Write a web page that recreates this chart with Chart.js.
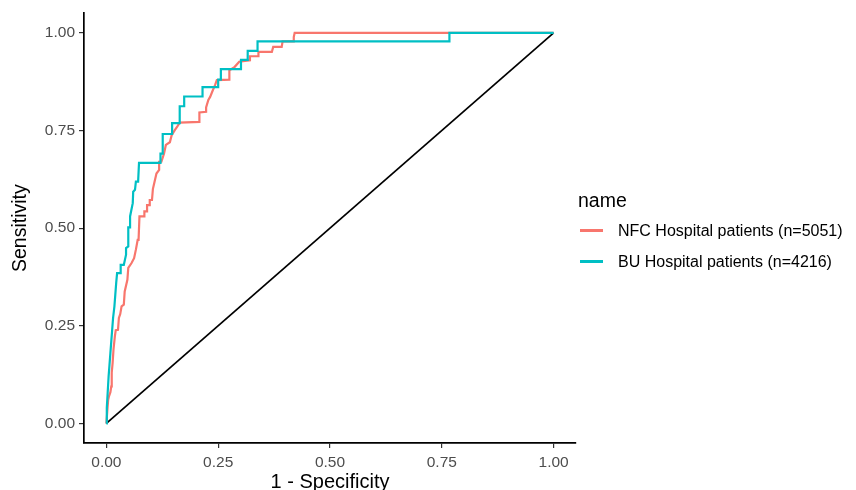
<!DOCTYPE html>
<html>
<head>
<meta charset="utf-8">
<script src="https://cdn.jsdelivr.net/npm/chart.js@4"></script>
<style>
  html, body { margin: 0; padding: 0; background: #fff; }
  #wrap { width: 856px; height: 490px; position: relative; overflow: hidden; }
  #legend { position: absolute; left: 578px; top: 187px; font-family: 'Liberation Sans', Arial, sans-serif; color: #000; }
  #legend .title { font-size: 19.5px; line-height: 26px; height: 28px; }
  #legend .item { position: relative; height: 31px; line-height: 31px; font-size: 16px; white-space: nowrap; padding-left: 40px; }
  #legend .key { position: absolute; left: 2px; top: 14px; width: 23px; height: 2.5px; }
</style>
</head>
<body>
<div id="wrap"><canvas id="c" width="856" height="490"></canvas><div id="legend"></div></div>
<script>
// ROC curve of NFC Hospital patients (n=5051)
const nfcFpr = [0,0.002,0.004,0.006,0.009,0.011,0.012,0.014,0.016,0.019,0.021,0.026,0.028,0.031,0.034,0.039,0.041,0.047,0.049,0.056,0.062,0.066,0.070,0.072,0.074,0.085,0.085,0.091,0.091,0.097,0.097,0.102,0.104,0.108,0.112,0.118,0.118,0.123,0.129,0.133,0.142,0.146,0.153,0.158,0.164,0.208,0.208,0.223,0.223,0.228,0.232,0.238,0.243,0.247,0.275,0.275,0.287,0.297,0.321,0.321,0.340,0.340,0.370,0.373,0.392,0.394,0.418,0.419,0.421,1];
const nfcTpr = [0,0.030,0.060,0.070,0.080,0.095,0.130,0.155,0.190,0.223,0.239,0.240,0.270,0.280,0.300,0.304,0.338,0.368,0.398,0.410,0.423,0.445,0.470,0.470,0.530,0.530,0.543,0.543,0.559,0.559,0.572,0.572,0.600,0.620,0.640,0.649,0.670,0.670,0.691,0.713,0.720,0.738,0.751,0.759,0.770,0.772,0.796,0.798,0.809,0.828,0.836,0.853,0.866,0.879,0.880,0.904,0.913,0.926,0.930,0.940,0.940,0.951,0.951,0.964,0.964,0.978,0.978,0.989,1,1];

// ROC curve of BU Hospital patients (n=4216)
const buFpr = [0,0.001,0.003,0.005,0.007,0.009,0.011,0.013,0.015,0.018,0.020,0.022,0.024,0.032,0.032,0.039,0.044,0.044,0.049,0.049,0.053,0.053,0.056,0.059,0.060,0.064,0.066,0.071,0.073,0.121,0.121,0.126,0.126,0.147,0.147,0.164,0.164,0.174,0.174,0.215,0.215,0.250,0.250,0.256,0.256,0.301,0.301,0.316,0.316,0.338,0.338,0.767,0.767,1];
const buTpr = [0,0.040,0.080,0.120,0.150,0.180,0.210,0.240,0.270,0.300,0.330,0.360,0.385,0.385,0.406,0.406,0.432,0.449,0.453,0.502,0.502,0.530,0.547,0.564,0.593,0.598,0.619,0.619,0.667,0.667,0.691,0.691,0.741,0.741,0.769,0.769,0.812,0.812,0.837,0.837,0.861,0.861,0.880,0.880,0.907,0.907,0.931,0.931,0.954,0.954,0.978,0.978,1,1];

// Reference (chance) line
const refX = [0, 1];
const refY = [0, 1];

const seriesNames = ['NFC Hospital patients (n=5051)', 'BU Hospital patients (n=4216)'];
const seriesColors = ['#F8766D', '#00BFC4'];
const tickValues = [0, 0.25, 0.5, 0.75, 1];
const legendTitle = 'name';
const xTitle = '1 - Specificity';
const yTitle = 'Sensitivity';

const pts = (xs, ys) => xs.map((x, i) => ({x: x, y: ys[i]}));
const FONT = "'Liberation Sans', Arial, sans-serif";

// HTML legend (real text)
const legendEl = document.getElementById('legend');
const t = document.createElement('div'); t.className = 'title'; t.textContent = legendTitle; legendEl.appendChild(t);
seriesNames.forEach((name, i) => {
  const it = document.createElement('div'); it.className = 'item';
  const k = document.createElement('span'); k.className = 'key'; k.style.background = seriesColors[i];
  it.appendChild(k); it.appendChild(document.createTextNode(name));
  legendEl.appendChild(it);
});

new Chart(document.getElementById('c'), {
  type: 'line',
  data: {
    datasets: [
      { label: seriesNames[0], data: pts(nfcFpr, nfcTpr), borderColor: seriesColors[0], borderWidth: 2.2, pointRadius: 0, fill: false, tension: 0, order: 1 },
      { label: seriesNames[1], data: pts(buFpr, buTpr), borderColor: seriesColors[1], borderWidth: 2.2, pointRadius: 0, fill: false, tension: 0, order: 0 },
      { label: 'ref', data: pts(refX, refY), borderColor: '#000', borderWidth: 1.7, pointRadius: 0, fill: false, tension: 0, order: 2 }
    ]
  },
  options: {
    responsive: false,
    animation: false,
    layout: { padding: { left: 0, right: 280, top: 13, bottom: 0 } },
    plugins: { tooltip: { enabled: false }, legend: { display: false } },
    scales: {
      x: {
        type: 'linear',
        min: -0.05,
        max: 1.05,
        afterBuildTicks: (s) => { s.ticks = tickValues.map(v => ({value: v})); },
        afterFit: (s) => { s.height = 47; },
        ticks: { callback: (v) => v.toFixed(2), color: '#4D4D4D', font: { family: FONT, size: 15.5 }, padding: 5, maxRotation: 0 },
        grid: { display: true, drawOnChartArea: false, drawTicks: true, tickLength: 5, color: '#333', lineWidth: 1.2 },
        border: { display: true, color: '#000', width: 1.7 },
        title: { display: true, text: xTitle, color: '#000', font: { family: FONT, size: 20 }, padding: { top: 0, bottom: -4 } }
      },
      y: {
        type: 'linear',
        min: -0.05,
        max: 1.05,
        afterBuildTicks: (s) => { s.ticks = tickValues.map(v => ({value: v})); },
        afterFit: (s) => { s.width = 84; },
        ticks: { callback: (v) => v.toFixed(2), color: '#4D4D4D', font: { family: FONT, size: 15.5 }, padding: 4 },
        grid: { display: true, drawOnChartArea: false, drawTicks: true, tickLength: 5, color: '#333', lineWidth: 1.2 },
        border: { display: true, color: '#000', width: 1.7 },
        title: { display: true, text: yTitle, color: '#000', font: { family: FONT, size: 19.5 }, padding: { top: 9, bottom: 0 } }
      }
    }
  }
});
</script>
</body>
</html>
